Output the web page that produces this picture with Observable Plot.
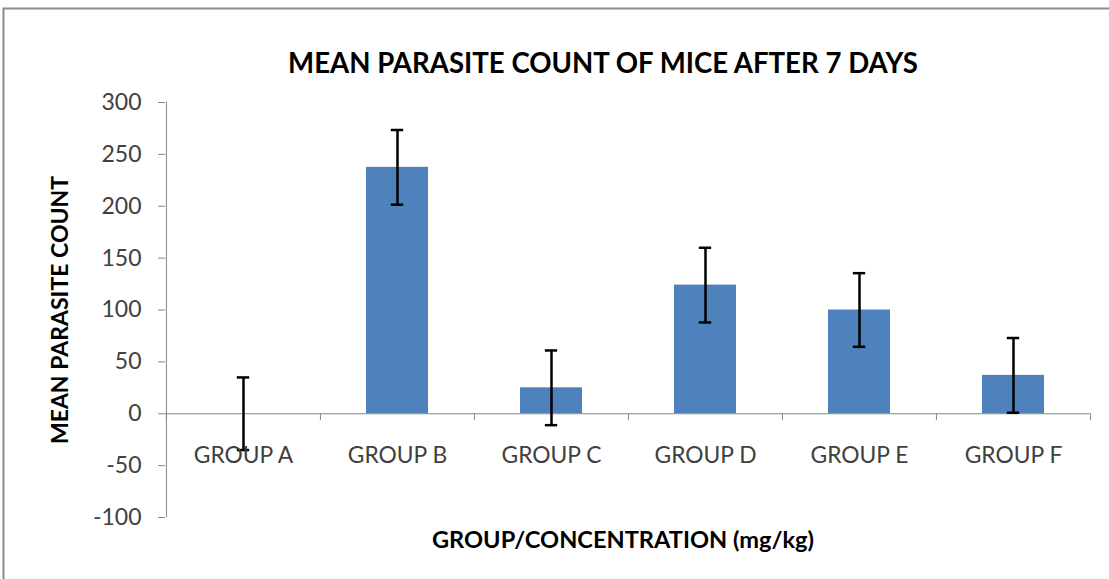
<!DOCTYPE html>
<html><head><meta charset="utf-8">
<script src="https://cdn.jsdelivr.net/npm/d3@7"></script>
<script src="https://cdn.jsdelivr.net/npm/@observablehq/plot@0.6"></script>
<style>body{margin:0;background:#fff;overflow:hidden}</style>
</head><body><div id="chart"></div>
<script>
const groups = ["GROUP A", "GROUP B", "GROUP C", "GROUP D", "GROUP E", "GROUP F"];
const means = [0, 237.5, 25, 124, 100, 37];
const errors = [35, 36, 36, 36, 35.5, 36];
const yTicks = [-100, -50, 0, 50, 100, 150, 200, 250, 300];
const title = "MEAN PARASITE COUNT OF MICE AFTER 7 DAYS";
const yLabel = "MEAN PARASITE COUNT";
const xLabel = "GROUP/CONCENTRATION (mg/kg)";

const data = groups.map((g, i) => ({group: g, mean: means[i], lo: means[i] - errors[i], hi: means[i] + errors[i]}));

const W = 1109, H = 579, mL = 165, mR = 19, mT = 102, mB = 62;
const half = (W - mL - mR) / groups.length / 2;
const font = "Lato, 'Open Sans', sans-serif";
const axisGray = "#868686";
const paddingInner = 0.6, paddingOuter = 0.3;
const bandwidth = (W - mL - mR) / groups.length * (1 - paddingInner);
const capInset = (bandwidth - 12) / 2;

const plot = Plot.plot({
  width: W, height: H,
  marginLeft: mL, marginRight: mR, marginTop: mT, marginBottom: mB,
  style: {fontFamily: font, background: "#fff", color: "#404040", overflow: "visible"},
  x: {domain: groups, paddingInner, paddingOuter, axis: null},
  y: {domain: [-100, 300], axis: null},
  marks: [
    Plot.axisY(yTicks, {anchor: "left", tickSize: 7, tickPadding: 17, fontSize: 23, stroke: axisGray, fill: "#404040", label: null, tickFormat: d => String(d)}),
    Plot.ruleX([groups[0]], {x: d => d, dx: -half, y1: -100, y2: 300, stroke: axisGray, strokeWidth: 1}),
    Plot.ruleY([0], {stroke: axisGray, strokeWidth: 1}),
    Plot.ruleX(groups, {x: d => d, dx: -half, y1: 0, y2: 0, insetBottom: -7, stroke: axisGray}),
    Plot.ruleX([groups[groups.length - 1]], {x: d => d, dx: half, y1: 0, y2: 0, insetBottom: -7, stroke: axisGray}),
    Plot.barY(data, {x: "group", y: "mean", fill: "#4F81BD"}),
    Plot.ruleX(data, {x: "group", y1: "lo", y2: "hi", stroke: "#000", strokeWidth: 2.5}),
    Plot.tickY(data, {x: "group", y: "hi", inset: capInset, stroke: "#000", strokeWidth: 2.5}),
    Plot.tickY(data, {x: "group", y: "lo", inset: capInset, stroke: "#000", strokeWidth: 2.5}),
    Plot.text(data, {x: "group", text: "group", frameAnchor: "bottom", dy: -55, fontSize: 22.8, fill: "#404040"}),
    Plot.text([title], {frameAnchor: "top", lineAnchor: "middle", dy: -38, dx: -25, fontSize: 27.6, fontWeight: "bold", fill: "#000"}),
    Plot.text([yLabel], {frameAnchor: "left", textAnchor: "middle", lineAnchor: "middle", dx: -105, rotate: -90, fontSize: 23, fontWeight: "bold", fill: "#000"}),
    Plot.text([xLabel], {frameAnchor: "bottom", lineAnchor: "middle", dy: 23, dx: -5, fontSize: 23.6, fontWeight: "bold", fill: "#000"})
  ]
});

d3.select(plot).insert("rect", ":first-child")
  .attr("x", 3.5).attr("y", 8.5).attr("width", 1130).attr("height", 600)
  .attr("fill", "none").attr("stroke", "#8c8c8c").attr("stroke-width", 2);

document.getElementById("chart").appendChild(plot);
</script>
</body></html>
